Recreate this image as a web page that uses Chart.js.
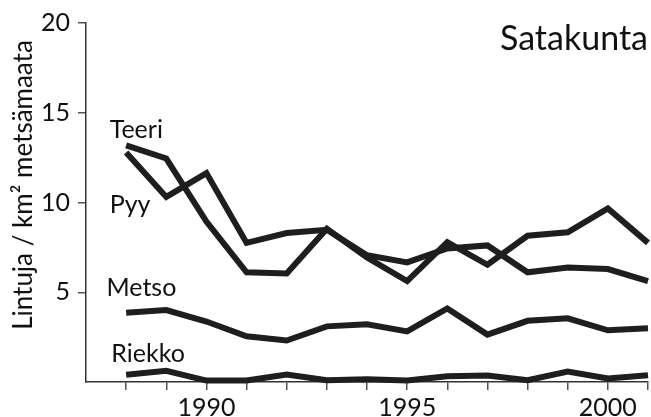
<!DOCTYPE html>
<html>
<head>
<meta charset="utf-8">
<script src="https://cdn.jsdelivr.net/npm/chart.js@4/dist/chart.umd.min.js"></script>
<style>
  html, body { margin: 0; padding: 0; background: #fff; }
  #wrap { width: 651px; height: 417px; position: relative; }
</style>
</head>
<body>
<div id="wrap"><canvas id="c" width="651" height="417"></canvas></div>
<script>
// ---- data ----
const years  = [1988, 1989, 1990, 1991, 1992, 1993, 1994, 1995, 1996, 1997, 1998, 1999, 2000, 2001];
const teeri  = [13.18, 12.45, 8.94, 6.11, 6.05, 8.54, 6.93, 5.62, 7.79, 6.53, 8.15, 8.34, 9.67, 7.75];
const pyy    = [12.78, 10.31, 11.64, 7.75, 8.30, 8.48, 7.06, 6.66, 7.44, 7.61, 6.11, 6.38, 6.29, 5.62];
const metso  = [3.86, 4.01, 3.37, 2.55, 2.31, 3.10, 3.22, 2.82, 4.10, 2.64, 3.41, 3.55, 2.88, 3.00];
const riekko = [0.41, 0.62, 0.08, 0.08, 0.41, 0.10, 0.15, 0.08, 0.32, 0.36, 0.10, 0.58, 0.20, 0.38];
const xTickLabels = [1990, 1995, 2000];
const yTickLabels = [5, 10, 15, 20];
const seriesNames = ['Teeri', 'Pyy', 'Metso', 'Riekko'];
const regionTitle = 'Satakunta';
const yTitle = 'Lintuja / km² metsämaata';
// label anchors in data units (year, value)
const labelAnchors = [[1987.59, 13.6], [1987.59, 9.4], [1987.51, 4.79], [1987.63, 1.14]];
const titleAnchor = [2001.0, 18.5];

const FONT = 'Lato, "Open Sans", sans-serif';
const INK = '#1e1e1e';

function pts(arr) { return years.map((y, i) => ({ x: y, y: arr[i] })); }

const series = [teeri, pyy, metso, riekko];
const datasets = series.map((arr, i) => ({
  label: seriesNames[i],
  data: pts(arr),
  borderColor: INK,
  borderWidth: 6,
  pointRadius: 0,
  tension: 0,
  fill: false,
  clip: false,
  borderJoinStyle: 'miter',
  borderCapStyle: 'butt'
}));

const textPlugin = {
  id: 'texts',
  afterDraw(chart) {
    const ctx = chart.ctx;
    const xs = chart.scales.x, ys = chart.scales.y;
    ctx.save();
    ctx.fillStyle = '#111';
    ctx.textBaseline = 'alphabetic';
    ctx.textAlign = 'left';
    ctx.font = '25px ' + FONT;
    seriesNames.forEach((n, i) => {
      const a = labelAnchors[i];
      ctx.fillText(n, xs.getPixelForValue(a[0]), ys.getPixelForValue(a[1]));
    });
    ctx.textAlign = 'right';
    ctx.font = '34px ' + FONT;
    ctx.fillText(regionTitle, xs.getPixelForValue(titleAnchor[0]), ys.getPixelForValue(titleAnchor[1]));
    // y axis title
    ctx.translate(32, 185);
    ctx.rotate(-Math.PI / 2);
    ctx.textAlign = 'center';
    ctx.font = '26px ' + FONT;
    ctx.fillText(yTitle, 0, 0);
    ctx.restore();
  }
};

new Chart(document.getElementById('c'), {
  type: 'line',
  data: { datasets },
  plugins: [textPlugin],
  options: {
    responsive: false,
    animation: false,
    devicePixelRatio: 1,
    layout: { padding: { top: 16, right: 3, left: 0, bottom: 0 } },
    plugins: { legend: { display: false }, tooltip: { enabled: false }, title: { display: false } },
    scales: {
      x: {
        type: 'linear',
        min: 1987, max: 2001,
        afterFit(s) { s.height = 35; },
        ticks: {
          stepSize: 1,
          autoSkip: false,
          maxRotation: 0,
          padding: 3,
          color: '#111',
          font: { family: FONT, size: 25 },
          callback: v => xTickLabels.includes(v) ? String(v) : ''
        },
        grid: {
          drawOnChartArea: false,
          drawTicks: true,
          tickLength: 8,
          color: c => (c.tick && c.tick.value === 1987) ? 'rgba(0,0,0,0)' : '#555',
          lineWidth: 1.5
        },
        border: { display: true, color: '#333', width: 1.5 }
      },
      y: {
        min: 0, max: 20,
        afterFit(s) { s.width = 86; },
        ticks: {
          stepSize: 5,
          padding: 8,
          color: '#111',
          font: { family: FONT, size: 25 },
          callback: v => yTickLabels.includes(v) ? String(v) : ''
        },
        grid: {
          drawOnChartArea: false,
          drawTicks: true,
          tickLength: 8,
          color: c => (c.tick && c.tick.value === 0) ? 'rgba(0,0,0,0)' : '#555',
          lineWidth: 1.5
        },
        border: { display: true, color: '#333', width: 1.5 }
      }
    }
  }
});
</script>
</body>
</html>
